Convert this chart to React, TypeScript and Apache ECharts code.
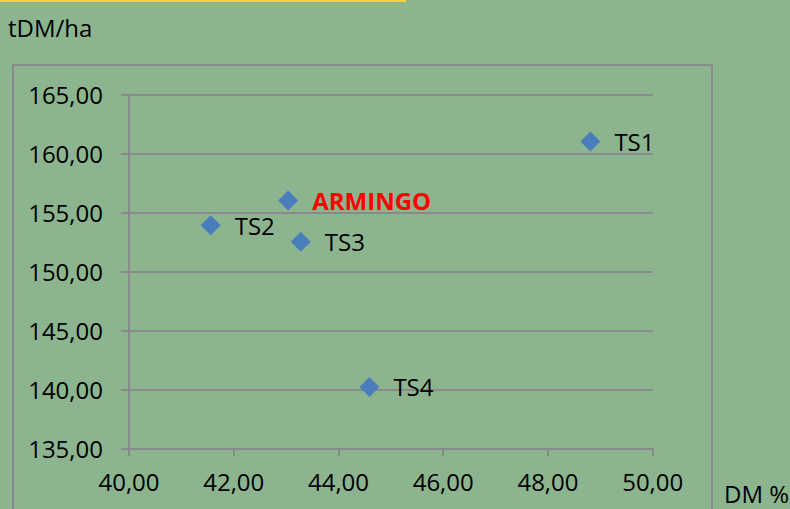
import React, { useEffect, useRef } from "react";
import * as echarts from "echarts";

const names = ["TS1", "ARMINGO", "TS2", "TS3", "TS4"];
const dmPercent = [48.81, 43.04, 41.56, 43.28, 44.59];
const yieldTDM = [161.0, 156.0, 153.9, 152.5, 140.2];
const xTitle = "DM %";
const yTitle = "tDM/ha";

const fmt = (v: number) => v.toFixed(2).replace(".", ",");

export default function App() {
  const ref = useRef<HTMLDivElement>(null);
  useEffect(() => {
    document.body.style.margin = "0";
    const chart = echarts.init(ref.current!, null, { renderer: "svg" });
    const font = "'Open Sans', Lato, sans-serif";
    const fs = 24;
    const data = names.map((n, i) => {
      const isArm = n === "ARMINGO";
      return {
        name: n,
        value: [dmPercent[i], yieldTDM[i]],
        label: isArm
          ? { color: "#ff0000", fontWeight: "bold" as const, fontSize: fs }
          : undefined,
      };
    });
    chart.setOption({
      animation: false,
      backgroundColor: "#8cb58f",
      textStyle: { fontFamily: font },
      graphic: [
        { type: "rect", shape: { x: 0, y: 0, width: 406, height: 2 }, style: { fill: "#f2d43a" } },
        {
          type: "rect",
          shape: { x: 13, y: 65, width: 699, height: 470 },
          style: { fill: "none", stroke: "#8a8a8a", lineWidth: 2 },
        },
        {
          type: "text",
          x: 8,
          y: 27,
          style: { text: yTitle, fontSize: fs, fontFamily: font, fill: "#000", verticalAlign: "middle" },
        },
        {
          type: "text",
          x: 724,
          y: 493,
          style: { text: xTitle, fontSize: fs, fontFamily: font, fill: "#000", verticalAlign: "middle" },
        },
      ],
      grid: { left: 129, top: 94.4, right: 137.3, bottom: 60.7 },
      xAxis: {
        type: "value",
        min: 40,
        max: 50,
        interval: 2,
        axisLine: { show: true, lineStyle: { color: "#8a8a8a", width: 2 } },
        axisTick: { show: true, length: 8, lineStyle: { color: "#8a8a8a", width: 2 } },
        splitLine: { show: false },
        axisLabel: { formatter: fmt, fontSize: fs, color: "#000", margin: 21, fontFamily: font },
      },
      yAxis: {
        type: "value",
        min: 135,
        max: 165,
        interval: 5,
        axisLine: { show: true, lineStyle: { color: "#8a8a8a", width: 2 } },
        axisTick: { show: true, length: 8, lineStyle: { color: "#8a8a8a", width: 2 } },
        splitLine: { show: true, lineStyle: { color: "#8a8a8a", width: 2 } },
        axisLabel: { formatter: fmt, fontSize: fs, color: "#000", margin: 26, fontFamily: font },
      },
      series: [
        {
          type: "scatter",
          symbol: "diamond",
          symbolSize: 20,
          itemStyle: { color: "#4a7ebb", opacity: 1 },
          label: {
            show: true,
            position: "right",
            distance: 14,
            formatter: "{b}",
            fontSize: fs,
            color: "#000",
            opacity: 1,
            fontFamily: font,
          },
          data,
        },
      ],
    });
    return () => chart.dispose();
  }, []);
  return <div ref={ref} style={{ width: 790, height: 509, position: "fixed", left: 0, top: 0 }} />;
}
